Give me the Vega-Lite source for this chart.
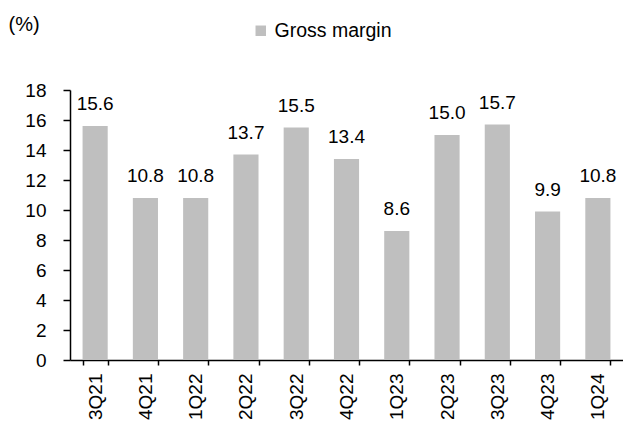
{
  "$schema": "https://vega.github.io/schema/vega-lite/v6.json",
  "width": 553,
  "height": 270,
  "autosize": {"type": "none"},
  "padding": {"left": 70, "top": 90, "right": 0, "bottom": 61},
  "background": "white",
  "config": {
    "view": {"stroke": null},
    "font": "Liberation Sans",
    "text": {"font": "Liberation Sans"}
  },
  "data": {
    "values": [
      {"quarter": "3Q21", "series": "Gross margin", "value": 15.6},
      {"quarter": "4Q21", "series": "Gross margin", "value": 10.8},
      {"quarter": "1Q22", "series": "Gross margin", "value": 10.8},
      {"quarter": "2Q22", "series": "Gross margin", "value": 13.7},
      {"quarter": "3Q22", "series": "Gross margin", "value": 15.5},
      {"quarter": "4Q22", "series": "Gross margin", "value": 13.4},
      {"quarter": "1Q23", "series": "Gross margin", "value": 8.6},
      {"quarter": "2Q23", "series": "Gross margin", "value": 15.0},
      {"quarter": "3Q23", "series": "Gross margin", "value": 15.7},
      {"quarter": "4Q23", "series": "Gross margin", "value": 9.9},
      {"quarter": "1Q24", "series": "Gross margin", "value": 10.8}
    ]
  },
  "encoding": {
    "x": {
      "field": "quarter",
      "type": "nominal",
      "sort": null,
      "scale": {"paddingInner": 0.5, "paddingOuter": 0.25},
      "axis": {
        "title": null,
        "labelAngle": -90,
        "labelFontSize": 19,
        "labelColor": "black",
        "labelPadding": 8,
        "tickBand": "extent",
        "tickSize": 5,
        "tickColor": "black",
        "domainColor": "black",
        "domainWidth": 1.5,
        "tickWidth": 1.5
      }
    },
    "y": {
      "field": "value",
      "type": "quantitative",
      "scale": {"domain": [0, 18], "nice": false},
      "axis": {
        "values": [0, 2, 4, 6, 8, 10, 12, 14, 16, 18],
        "grid": false,
        "title": "(%)",
        "titleAngle": 0,
        "titleX": -62,
        "titleY": -66,
        "titleAlign": "left",
        "titleBaseline": "middle",
        "titleFontWeight": "normal",
        "titleFontSize": 20,
        "titleColor": "black",
        "labelFontSize": 19,
        "labelColor": "black",
        "labelPadding": 17,
        "tickSize": 7,
        "tickColor": "black",
        "domainColor": "black",
        "domainWidth": 1.5,
        "tickWidth": 1.5
      }
    }
  },
  "layer": [
    {
      "mark": {"type": "bar"},
      "encoding": {
        "color": {
          "field": "series",
          "type": "nominal",
          "scale": {"range": ["#bfbfbf"]},
          "legend": {
            "title": null,
            "orient": "none",
            "legendX": 181,
            "legendY": -69,
            "symbolType": "square",
            "symbolSize": 110,
            "symbolStrokeWidth": 0,
            "labelFontSize": 19.5,
            "labelColor": "black",
            "labelOffset": 4
          }
        }
      }
    },
    {
      "mark": {"type": "text", "baseline": "alphabetic", "dy": -16, "fontSize": 19, "color": "black"},
      "encoding": {
        "text": {"field": "value", "type": "quantitative", "format": ".1f"}
      }
    }
  ]
}
